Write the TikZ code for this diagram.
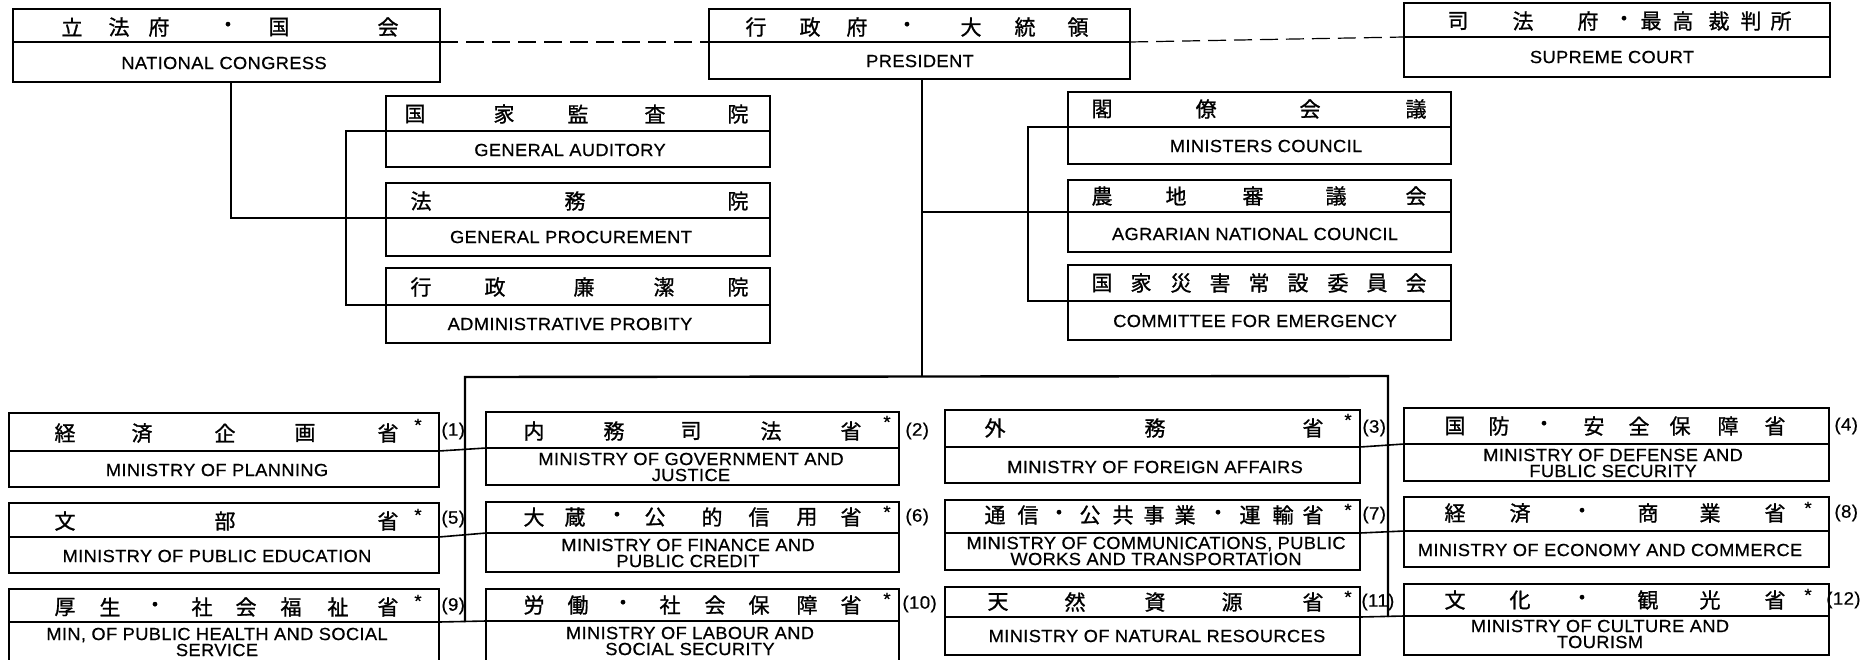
\documentclass[tikz,border=0pt]{standalone}
\usepackage{fontspec}
\setmainfont{Liberation Sans}
\newfontfamily\cjk[FakeBold=1]{Noto Sans CJK JP}
\newfontfamily\en[FakeStretch=1.04,LetterSpace=2,FakeBold=0.5]{Liberation Sans}
\usetikzlibrary{fit}
\tikzset{
  obox/.style={draw, line width=0.8pt, inner sep=0pt},
  divl/.style={line width=0.7pt},
  conn/.style={line width=1.2pt},
  stub/.style={line width=0.8pt},
  dashl/.style={line width=0.6pt, dash pattern=on 9pt off 4pt},
  cj/.style={font=\cjk\fontsize{10.5pt}{11pt}\selectfont, inner sep=0pt},
  en/.style={font=\en\fontsize{8.8pt}{8pt}\selectfont, inner sep=0pt, align=center},
  num/.style={font=\en\fontsize{9pt}{9pt}\selectfont, inner sep=0pt, anchor=west},
  ast/.style={font=\en\fontsize{9pt}{8pt}\selectfont, inner sep=0pt},
}
\newcommand\orgbox[6]{%
  \node[obox, fit={(#2,#3) (#4,#5)}] (#1) {};
  \coordinate (#1-l) at (#2,#6);
  \coordinate (#1-r) at (#4,#6);
  \draw[divl] (#1-l) -- (#1-r);}
\newcommand\cjrow[3]{%
  \foreach \x/\c [count=\i] in {#3} {\node[cj] (#1-c\i) at (\x,#2) {\c};}}
\begin{document}
\begin{tikzpicture}[x=0.5pt,y=-0.5pt]
\useasboundingbox (0,0) rectangle (1861,659);
\fill[white] (0,0) rectangle (1861,659);
% ---- top boxes
\orgbox{nc}{13}{9}{440}{82}{42}
\orgbox{pres}{709}{9}{1130}{79}{42}
\orgbox{sc}{1404}{3}{1830}{77}{37}
\orgbox{ga}{386}{96}{770}{167}{131}
\orgbox{gp}{386}{183}{770}{256}{218}
\orgbox{ap}{386}{268}{770}{343}{305}
\orgbox{mc}{1068}{92}{1451}{164}{127}
\orgbox{anc}{1068}{180}{1451}{252}{212}
\orgbox{ce}{1068}{265}{1451}{340}{301}
% ---- ministries
\orgbox{mp}{9}{413}{439}{487}{451}
\orgbox{mpe}{9}{503}{439}{573}{537}
\orgbox{mph}{9}{589}{439}{664}{622}
\orgbox{mgj}{486}{412}{899}{485}{448}
\orgbox{mf}{486}{502}{899}{572}{533}
\orgbox{ml}{486}{589}{899}{664}{621}
\orgbox{mfa}{945}{410}{1360}{483}{447}
\orgbox{mco}{945}{500}{1360}{570}{533}
\orgbox{mnr}{945}{587}{1360}{655}{617}
\orgbox{md}{1404}{408}{1829}{481}{444}
\orgbox{mec}{1404}{497}{1829}{567}{531}
\orgbox{mct}{1404}{584}{1829}{655}{616}
% ---- Japanese titles
\cjrow{nc}{27}{72/立,119/法,159/府,228/・,279/国,388/会}
\cjrow{pres}{27}{756/行,810/政,857/府,907/・,971/大,1025/統,1078/領}
\cjrow{sc}{21}{1458/司,1523/法,1588/府,1624/・,1651/最,1683/高,1719/裁,1751/判,1781/所}
\cjrow{ga}{114}{415/国,504/家,578/監,655/査,738/院}
\cjrow{gp}{201}{421/法,575/務,738/院}
\cjrow{ap}{287}{421/行,495/政,584/廉,664/潔,738/院}
\cjrow{mc}{109}{1102/閣,1206/僚,1310/会,1416/議}
\cjrow{anc}{196}{1102/農,1176/地,1253/審,1336/議,1416/会}
\cjrow{ce}{283}{1102/国,1141/家,1181/災,1220/害,1259/常,1298/設,1338/委,1377/員,1416/会}
\cjrow{mp}{433}{65/経,142/済,225/企,305/画,388/省}
\cjrow{mpe}{521}{65/文,225/部,388/省}
\cjrow{mph}{607}{65/厚,110/生,155/・,202/社,246/会,291/福,338/祉,388/省}
\cjrow{mgj}{431}{534/内,614/務,691/司,771/法,851/省}
\cjrow{mf}{517}{534/大,575/蔵,617/・,655/公,712/的,759/信,807/用,851/省}
\cjrow{ml}{605}{534/労,578/働,623/・,670/社,715/会,759/保,807/障,851/省}
\cjrow{mfa}{428}{995/外,1155/務,1313/省}
\cjrow{mco}{515}{995/通,1028/信,1059/・,1090/公,1123/共,1154/事,1185/業,1218/・,1250/運,1283/輸,1313/省}
\cjrow{mnr}{602}{998/天,1075/然,1155/資,1232/源,1313/省}
\cjrow{md}{426}{1455/国,1499/防,1544/・,1594/安,1639/全,1680/保,1728/障,1775/省}
\cjrow{mec}{513}{1455/経,1520/済,1582/・,1648/商,1710/業,1775/省}
\cjrow{mct}{600}{1455/文,1520/化,1582/・,1648/観,1710/光,1775/省}
% ---- asterisks
\node[ast] (mp-a) at (418,425) {*};
\node[ast] (mpe-a) at (418,515) {*};
\node[ast] (mph-a) at (418,601) {*};
\node[ast] (mgj-a) at (887,422) {*};
\node[ast] (mf-a) at (887,512) {*};
\node[ast] (ml-a) at (887,599) {*};
\node[ast] (mfa-a) at (1348,420) {*};
\node[ast] (mco-a) at (1348,510) {*};
\node[ast] (mnr-a) at (1348,597) {*};
\node[ast] (mec-a) at (1808,508) {*};
\node[ast] (mct-a) at (1808,595) {*};
% ---- numbers
\node[num] (n1) at (441,431) {(1)};
\node[num] (n5) at (441,519) {(5)};
\node[num] (n9) at (441,606) {(9)};
\node[num] (n2) at (905,431) {(2)};
\node[num] (n6) at (905,517) {(6)};
\node[num] (n10) at (902,604) {(10)};
\node[num] (n3) at (1362,428) {(3)};
\node[num] (n7) at (1362,515) {(7)};
\node[num] (n11) at (1361,602) {(11)};
\node[num] (n4) at (1834,426) {(4)};
\node[num] (n8) at (1834,513) {(8)};
\node[num, anchor=east] (n12) at (1861,600) {(12)};
% ---- English names
\node[en] (nc-en) at (224,63) {NATIONAL CONGRESS};
\node[en] (pres-en) at (920,61) {PRESIDENT};
\node[en] (sc-en) at (1612,57) {SUPREME COURT};
\node[en] (ga-en) at (570,150) {GENERAL AUDITORY};
\node[en] (gp-en) at (571,237) {GENERAL PROCUREMENT};
\node[en] (ap-en) at (570,324) {ADMINISTRATIVE PROBITY};
\node[en] (mc-en) at (1266,146) {MINISTERS COUNCIL};
\node[en] (anc-en) at (1255,234) {AGRARIAN NATIONAL COUNCIL};
\node[en] (ce-en) at (1255,321) {COMMITTEE FOR EMERGENCY};
\node[en] (mp-en) at (217,470) {MINISTRY OF PLANNING};
\node[en] (mpe-en) at (217,556) {MINISTRY OF PUBLIC EDUCATION};
\node[en] (mph-en) at (217,642) {MIN, OF PUBLIC HEALTH AND SOCIAL\\SERVICE};
\node[en] (mgj-en) at (691,467) {MINISTRY OF GOVERNMENT AND\\JUSTICE};
\node[en] (mf-en) at (688,553) {MINISTRY OF FINANCE AND\\PUBLIC CREDIT};
\node[en] (ml-en) at (690,641) {MINISTRY OF LABOUR AND\\SOCIAL SECURITY};
\node[en] (mfa-en) at (1155,467) {MINISTRY OF FOREIGN AFFAIRS};
\node[en] (mco-en) at (1156,551) {MINISTRY OF COMMUNICATIONS, PUBLIC\\WORKS AND TRANSPORTATION};
\node[en] (mnr-en) at (1157,636) {MINISTRY OF NATURAL RESOURCES};
\node[en] (md-en) at (1613,463) {MINISTRY OF DEFENSE AND\\FUBLIC SECURITY};
\node[en] (mec-en) at (1610,550) {MINISTRY OF ECONOMY AND COMMERCE};
\node[en] (mct-en) at (1600,634) {MINISTRY OF CULTURE AND\\TOURISM};
% ---- connectors
\coordinate (ncx) at (231,0);
\coordinate (lbx) at (346,0);
\coordinate (pvx) at (922,0);
\coordinate (rbx) at (1028,0);
\coordinate (busL) at (465,377);
\coordinate (busR) at (1388,376);
\draw[dashl] (nc-r) -- (pres-l);
\draw[dashl] (pres-r) -- (sc-l);
\draw[conn] (nc.south -| ncx) |- (lbx |- gp-l);
\draw[stub] (lbx |- gp-l) -- (gp-l);
\draw[stub] (ga-l) -| (lbx |- ap-l) -- (ap-l);
\draw[conn] (pres.south -| pvx) -- (pvx |- busL);
\draw[conn] (pvx |- anc-l) -- (rbx |- anc-l);
\draw[stub] (rbx |- anc-l) -- (anc-l);
\draw[stub] (mc-l) -| (rbx |- ce-l) -- (ce-l);
\draw[conn] (busL |- mph-r) -- (busL) -- (busR) -- (busR |- mnr-r);
\draw[stub] (mp-r) -- (mgj-l);
\draw[stub] (mpe-r) -- (mf-l);
\draw[stub] (mph-r) -- (ml-l);
\draw[stub] (mfa-r) -- (md-l);
\draw[stub] (mco-r) -- (mec-l);
\draw[stub] (mnr-r) -- (mct-l);
\end{tikzpicture}
\end{document}
